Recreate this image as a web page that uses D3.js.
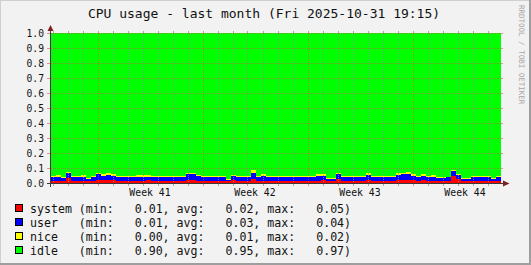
<!DOCTYPE html>
<html>
<head>
<meta charset="utf-8">
<script src="https://cdn.jsdelivr.net/npm/d3@7"></script>
<style>
  body { margin: 0; background: #fff; }
  svg { display: block; font-family: "DejaVu Sans Mono", monospace; }
  text { white-space: pre; }
</style>
</head>
<body>
<div id="chart"></div>
<script>
// chart data (8 hour steps)
const title = 'CPU usage - last month (Fri 2025-10-31 19:15)';
const watermark = 'RRDTOOL / TOBI OETIKER';
const seriesNames = ['system', 'user', 'nice', 'idle'];
const startTime = new Date(2025, 9, 2, 21, 36);
const endTime = new Date(2025, 10, 1, 21, 36);
const stepHours = 8;

const system = [0.016, 0.015, 0.014, 0.035, 0.016, 0.015, 0.016, 0.012, 0.014, 0.018,
    0.017, 0.019, 0.017, 0.015, 0.015, 0.016, 0.014, 0.016, 0.015, 0.017,
    0.015, 0.016, 0.014, 0.015, 0.014, 0.015, 0.016, 0.018, 0.020, 0.016,
    0.015, 0.016, 0.015, 0.014, 0.015, 0.011, 0.017, 0.015, 0.014, 0.016,
    0.030, 0.015, 0.016, 0.015, 0.014, 0.016, 0.015, 0.014, 0.015, 0.016,
    0.015, 0.014, 0.016, 0.016, 0.017, 0.013, 0.012, 0.030, 0.015, 0.014,
    0.016, 0.015, 0.015, 0.018, 0.015, 0.014, 0.016, 0.015, 0.015, 0.018,
    0.020, 0.019, 0.017, 0.015, 0.018, 0.015, 0.016, 0.014, 0.014, 0.015,
    0.050, 0.025, 0.013, 0.012, 0.015, 0.016, 0.015, 0.014, 0.013, 0.015];
const user = [0.026, 0.027, 0.020, 0.030, 0.024, 0.023, 0.022, 0.015, 0.024, 0.040,
    0.032, 0.036, 0.030, 0.027, 0.026, 0.025, 0.027, 0.026, 0.027, 0.025,
    0.027, 0.025, 0.026, 0.023, 0.024, 0.022, 0.024, 0.040, 0.040, 0.030,
    0.025, 0.024, 0.026, 0.025, 0.024, 0.012, 0.028, 0.025, 0.026, 0.023,
    0.035, 0.025, 0.032, 0.025, 0.026, 0.024, 0.023, 0.024, 0.022, 0.023,
    0.024, 0.025, 0.025, 0.032, 0.031, 0.017, 0.018, 0.030, 0.026, 0.025,
    0.024, 0.023, 0.026, 0.037, 0.025, 0.026, 0.023, 0.024, 0.025, 0.038,
    0.039, 0.040, 0.033, 0.027, 0.032, 0.026, 0.026, 0.022, 0.021, 0.022,
    0.030, 0.027, 0.017, 0.018, 0.025, 0.024, 0.025, 0.025, 0.017, 0.025];
const nice = [0.008, 0.009, 0.006, 0.007, 0.006, 0.007, 0.014, 0.005, 0.007, 0.008,
    0.009, 0.010, 0.010, 0.008, 0.009, 0.008, 0.009, 0.013, 0.012, 0.014,
    0.008, 0.009, 0.008, 0.007, 0.007, 0.008, 0.006, 0.010, 0.010, 0.009,
    0.008, 0.008, 0.007, 0.009, 0.007, 0.005, 0.010, 0.007, 0.008, 0.007,
    0.020, 0.008, 0.010, 0.008, 0.008, 0.009, 0.007, 0.007, 0.009, 0.006,
    0.009, 0.009, 0.008, 0.010, 0.009, 0.005, 0.005, 0.008, 0.007, 0.009,
    0.008, 0.011, 0.009, 0.010, 0.007, 0.007, 0.008, 0.008, 0.009, 0.012,
    0.011, 0.012, 0.010, 0.008, 0.010, 0.008, 0.009, 0.006, 0.007, 0.006,
    0.010, 0.008, 0.005, 0.006, 0.007, 0.008, 0.007, 0.008, 0.005, 0.008];
const idle = [0.950, 0.949, 0.960, 0.928, 0.954, 0.955, 0.948, 0.968, 0.955, 0.934,
    0.942, 0.935, 0.943, 0.950, 0.950, 0.951, 0.950, 0.945, 0.946, 0.944,
    0.950, 0.950, 0.952, 0.955, 0.955, 0.955, 0.954, 0.932, 0.930, 0.945,
    0.952, 0.952, 0.952, 0.952, 0.954, 0.972, 0.945, 0.953, 0.952, 0.954,
    0.915, 0.952, 0.942, 0.952, 0.952, 0.951, 0.955, 0.955, 0.954, 0.955,
    0.952, 0.952, 0.951, 0.942, 0.943, 0.965, 0.965, 0.932, 0.952, 0.952,
    0.952, 0.951, 0.950, 0.935, 0.953, 0.953, 0.953, 0.953, 0.951, 0.932,
    0.930, 0.929, 0.940, 0.950, 0.940, 0.951, 0.949, 0.958, 0.958, 0.957,
    0.910, 0.940, 0.965, 0.964, 0.953, 0.952, 0.953, 0.953, 0.965, 0.952];

// legend statistics
const legendMin = [0.01, 0.01, 0.00, 0.90];
const legendAvg = [0.02, 0.03, 0.01, 0.95];
const legendMax = [0.05, 0.04, 0.02, 0.97];

const yTicks = [0.0, 0.1, 0.2, 0.3, 0.4, 0.5, 0.6, 0.7, 0.8, 0.9, 1.0];
const weekLabelFormat = 'Week %V';

// colours (rrdtool defaults)
const seriesColors = ['#ff0000', '#0000ff', '#ffff00', '#00ff00'];
const gridColor = 'rgba(143,143,143,0.75)';
const mgridColor = 'rgba(222,79,79,0.6)';
const arrowColor = '#801f1f';
const axisColor = '#3a3a3a';

const width = 531, height = 265;

var svg = d3.select('#chart').append('svg')
    .attr('width', width)
    .attr('height', height);

// background and 3d frame
svg.append('rect').attr('width', width).attr('height', height).attr('fill', '#f2f2f2');
svg.append('rect').attr('x', 0).attr('y', 0).attr('width', width).attr('height', 1).attr('fill', '#cfcfcf');
svg.append('rect').attr('x', 0).attr('y', 0).attr('width', 1).attr('height', height).attr('fill', '#cfcfcf');
svg.append('rect').attr('x', width - 2).attr('y', 0).attr('width', 2).attr('height', height).attr('fill', '#9e9e9e');
svg.append('rect').attr('x', 0).attr('y', height - 2).attr('width', width).attr('height', 2).attr('fill', '#9e9e9e');

// scales
var x = d3.scaleTime().domain([startTime, endTime]).range([51, 501]);
var y = d3.scaleLinear().domain([0, 1]).range([183, 33]);

// stacked areas
var rows = system.map(function (s, i) {
    return {
        time: d3.timeHour.offset(startTime, i * stepHours),
        system: s, user: user[i], nice: nice[i], idle: idle[i]
    };
});
rows.push(Object.assign({}, rows[rows.length - 1], {time: endTime}));

var stacked = d3.stack().keys(seriesNames)(rows);

var area = d3.area()
    .curve(d3.curveStepAfter)
    .x(function (d) { return x(d.data.time); })
    .y0(function (d) { return y(d[0]); })
    .y1(function (d) { return y(d[1]); });

svg.append('g')
    .selectAll('path')
    .data(stacked)
    .enter().append('path')
    .attr('fill', function (d, i) { return seriesColors[i]; })
    .attr('shape-rendering', 'crispEdges')
    .attr('d', area);

// grid
var grid = svg.append('g').attr('shape-rendering', 'crispEdges');
var days = d3.timeDay.range(d3.timeDay.ceil(startTime), endTime);
var mondays = d3.timeMonday.range(startTime, endTime);

days.filter(function (d) { return d.getDay() !== 1; }).forEach(function (d) {
    var xx = Math.round(x(d)) + 0.5;
    grid.append('line').attr('x1', xx).attr('x2', xx).attr('y1', y(1)).attr('y2', y(0))
        .attr('stroke', gridColor).attr('stroke-dasharray', '1,1');
    grid.append('line').attr('x1', xx).attr('x2', xx).attr('y1', y(0)).attr('y2', y(0) + 3)
        .attr('stroke', gridColor);
    grid.append('line').attr('x1', xx).attr('x2', xx).attr('y1', y(1) - 2).attr('y2', y(1))
        .attr('stroke', gridColor);
});

mondays.forEach(function (d) {
    var xx = Math.round(x(d)) + 0.5;
    grid.append('line').attr('x1', xx).attr('x2', xx).attr('y1', y(1)).attr('y2', y(0))
        .attr('stroke', mgridColor).attr('stroke-dasharray', '1,1');
    grid.append('line').attr('x1', xx).attr('x2', xx).attr('y1', y(0)).attr('y2', y(0) + 3)
        .attr('stroke', mgridColor);
    grid.append('line').attr('x1', xx).attr('x2', xx).attr('y1', y(1) - 2).attr('y2', y(1))
        .attr('stroke', mgridColor);
});

yTicks.filter(function (t) { return t > 0; }).forEach(function (t) {
    var yy = Math.round(y(t)) + 0.5;
    grid.append('line').attr('x1', 51).attr('x2', 501).attr('y1', yy).attr('y2', yy)
        .attr('stroke', mgridColor).attr('stroke-dasharray', '1,1');
    grid.append('line').attr('x1', 47).attr('x2', 51).attr('y1', yy).attr('y2', yy)
        .attr('stroke', mgridColor);
    grid.append('line').attr('x1', 501).attr('x2', 503).attr('y1', yy).attr('y2', yy)
        .attr('stroke', mgridColor);
});

// axes with arrows
svg.append('line').attr('x1', 47).attr('x2', 505).attr('y1', 183.5).attr('y2', 183.5)
    .attr('stroke', axisColor).attr('shape-rendering', 'crispEdges');
svg.append('line').attr('x1', 50.5).attr('x2', 50.5).attr('y1', 187).attr('y2', 29)
    .attr('stroke', axisColor).attr('shape-rendering', 'crispEdges');
svg.append('path').attr('d', 'M503,180.5L509.5,183.5L503,186.5Z').attr('fill', arrowColor);
svg.append('path').attr('d', 'M47.5,31L50.5,25L53.5,31Z').attr('fill', arrowColor);

// y labels
var fmt = d3.format('.1f');
svg.append('g').selectAll('text')
    .data(yTicks)
    .enter().append('text')
    .attr('x', 44)
    .attr('y', function (d) { return y(d) + 3.5; })
    .attr('text-anchor', 'end')
    .attr('font-size', '9.7px')
    .attr('fill', '#111')
    .text(function (d) { return fmt(d); });

// week labels, centred in each week
var weekFmt = d3.timeFormat(weekLabelFormat);
svg.append('g').selectAll('text')
    .data(mondays)
    .enter().append('text')
    .attr('x', function (d) { return x(d3.timeHour.offset(d, 84)); })
    .attr('y', 196)
    .attr('text-anchor', 'middle')
    .attr('font-size', '9.8px')
    .attr('fill', '#111')
    .text(function (d) { return weekFmt(d); });

// title
svg.append('text')
    .attr('x', 264)
    .attr('y', 18)
    .attr('text-anchor', 'middle')
    .attr('font-size', '13px')
    .attr('fill', '#111')
    .text(title);

// watermark
svg.append('text')
    .attr('transform', 'translate(518.5,5) rotate(90)')
    .attr('font-size', '7.5px')
    .attr('fill', '#a8a8a8')
    .text(watermark);

// legend
var f2 = d3.format('.2f');
var legend = svg.append('g');
seriesNames.forEach(function (name, i) {
    var yy = 209 + i * 14;
    legend.append('rect')
        .attr('x', 15.5).attr('y', yy - 4.5)
        .attr('width', 7).attr('height', 7)
        .attr('fill', seriesColors[i])
        .attr('stroke', '#000');
    var label = name.padEnd(6) + ' (min: ' + f2(legendMin[i]).padStart(6) +
        ', avg: ' + f2(legendAvg[i]).padStart(6) +
        ', max: ' + f2(legendMax[i]).padStart(6) + ')';
    legend.append('text')
        .attr('x', 30)
        .attr('y', yy + 4)
        .attr('font-size', '11.6px')
        .attr('fill', '#111')
        .text(label);
});
</script>
</body>
</html>
